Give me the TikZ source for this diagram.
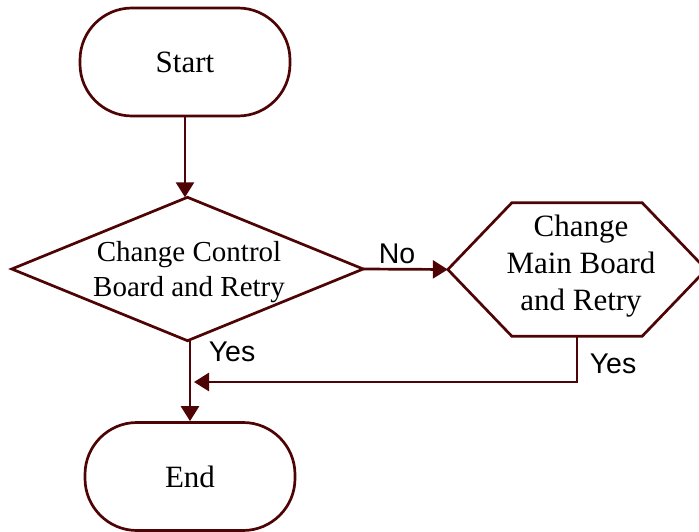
\documentclass[tikz,border=0pt]{standalone}
\usepackage{fontspec}
\setmainfont{Liberation Serif}
\newfontfamily\labelfont{Liberation Sans}
\usetikzlibrary{arrows.meta}
\definecolor{edge}{RGB}{78,4,4}
\begin{document}
\begin{tikzpicture}[x=1pt,y=-1pt,
  shapeline/.style={draw=edge, line width=2.7pt, line join=miter},
  terminal/.style={shapeline, rectangle, rounded corners=52pt, minimum width=210pt, minimum height=108pt, inner sep=0pt, font=\fontsize{31}{37}\selectfont},
  frame/.style={rectangle, inner sep=0pt},
  boxtext/.style={align=center, inner sep=0pt},
  arr/.style={draw=edge, line width=2.7pt, -{Triangle[length=15pt,width=18pt]}},
  lbl/.style={inner sep=0pt, font=\labelfont\fontsize{28.5}{33}\selectfont}
]
\useasboundingbox (0,0) rectangle (699,532);

% terminals
\node[terminal] (start) at (185,62) {Start};
\node[terminal] (end) at (190,476.5) {End};

% decision diamond: frame node plus outline through its anchors
\node[frame, minimum width=351pt, minimum height=143pt] (dec) at (187.5,269) {};
\draw[shapeline] (dec.west) -- (dec.north) -- (dec.east) -- (dec.south) -- cycle;
\node[boxtext, font=\fontsize{29}{35}\selectfont] (dectext) at (189,272) {Change Control\\Board and Retry};

% process hexagon
\node[frame, minimum width=258pt, minimum height=133pt] (hex) at (577,269.5) {};
\draw[shapeline] (hex.west) -- ([xshift=64pt]hex.north west) -- ([xshift=-64pt]hex.north east)
  -- (hex.east) -- ([xshift=-64pt]hex.south east) -- ([xshift=64pt]hex.south west) -- cycle;
\node[boxtext, font=\fontsize{31}{37}\selectfont] (hextext) at (581,266.5) {Change\\Main Board\\and Retry};

% connectors
\draw[arr] (start.south) -- (start.south |- dec.north);
\draw[arr] (dec.east) -- (hex.west);
\draw[arr] (dec.south -| end.north) -- (end.north);
\coordinate (merge) at (190,382);
\draw[arr, line join=miter, shorten >=4pt] (hex.south) |- (merge);

% branch labels
\node[lbl] (nolbl) at (397,254) {No};
\node[lbl] (yeslbl) at (232,352) {Yes};
\node[lbl] (yeslbl2) at (613,364) {Yes};
\end{tikzpicture}
\end{document}
